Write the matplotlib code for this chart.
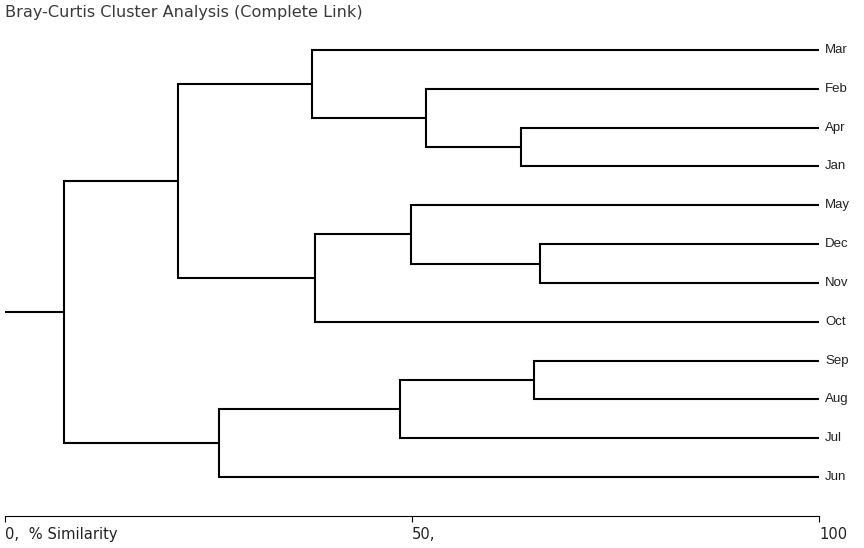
import matplotlib
matplotlib.use("Agg")
import matplotlib.pyplot as plt

# leaf order top to bottom
leaves = ["Mar", "Feb", "Apr", "Jan", "May", "Dec", "Nov", "Oct",
          "Sep", "Aug", "Jul", "Jun"]

# merges: node name, left child, right child, % similarity
node_names = ["n1", "n2", "n3", "n4", "n5", "n6", "n7", "n8", "n9", "n10", "n11"]
left_child = ["Apr", "Feb", "Mar", "Dec", "May", "n5", "n3", "Sep", "n8", "n9", "n7"]
right_child = ["Jan", "n1", "n2", "Nov", "n4", "Oct", "n6", "Aug", "Jul", "Jun", "n10"]
similarity = [63.4, 51.7, 37.7, 65.7, 49.9, 38.1, 21.3, 65.0, 48.5, 26.3, 7.2]

tick_vals = [0, 50, 100]
tick_text = ["0,  % Similarity", "50,", "100"]
title = "Bray-Curtis Cluster Analysis (Complete Link)"

plt.rcParams['font.family'] = ['Liberation Sans', 'DejaVu Sans']

W, H = 864, 548
fig = plt.figure(figsize=(W / 100, H / 100), dpi=100)
ax = fig.add_axes([5 / W, 1 - 516 / H, 814 / W, 486 / H])

# positions of each leaf / node
ypos = {name: i for i, name in enumerate(leaves)}
xpos = {name: 100 for name in leaves}

lw = 1.5
for name, l, r, s in zip(node_names, left_child, right_child, similarity):
    ypos[name] = (ypos[l] + ypos[r]) / 2
    xpos[name] = s
    ax.plot([xpos[l], s, s, xpos[r]], [ypos[l], ypos[l], ypos[r], ypos[r]],
            color="black", lw=lw, solid_joinstyle="miter",
            solid_capstyle="butt", clip_on=False)

root = node_names[-1]
ax.plot([0, xpos[root]], [ypos[root], ypos[root]], color="black", lw=lw,
        solid_capstyle="butt", clip_on=False)

for name in leaves:
    ax.text(100.75, ypos[name], name, ha="left", va="center",
            fontsize=9.5, color="#222222", clip_on=False)

ax.set_xlim(0, 100)
ax.set_ylim(12.0, -0.515)

for sp in ["top", "left", "right"]:
    ax.spines[sp].set_visible(False)
ax.spines["bottom"].set_linewidth(0.8)
ax.set_yticks([])
ax.set_xticks(tick_vals)
ax.set_xticklabels(tick_text, ha="left", fontsize=10.6, color="#222222",
                   family="DejaVu Sans")
ax.tick_params(axis="x", direction="out", length=4, width=0.8, pad=4)

fig.text(5 / W, 1 - 13 / H, title, ha="left", va="center",
         fontsize=11.6, color="#3a3a3a", family="DejaVu Sans")

fig.savefig("out.png", dpi=100)
